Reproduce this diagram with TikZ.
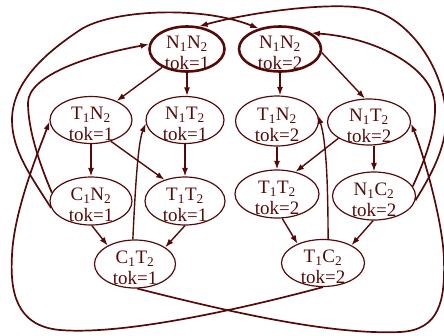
\documentclass[tikz,border=0pt]{standalone}
\usepackage{fontspec}
\setmainfont{Liberation Serif}
\usetikzlibrary{shapes.geometric,arrows.meta}
\definecolor{mr}{RGB}{85,10,10}
\newcommand\stlab[2]{\raisebox{-10pt}[0pt][0pt]{\begin{tabular}{@{}c@{}}#1\\#2\end{tabular}}}
\begin{document}
\begin{tikzpicture}[x=1pt,y=-1pt,
  st/.style={ellipse, draw=mr, line width=1.2pt, inner sep=0pt, minimum width=82pt, minimum height=47pt, font=\fontsize{19}{20.5}\selectfont, text=mr},
  init/.style={st, line width=2.6pt},
  edge/.style={draw=mr, line width=1.4pt, -{Latex[length=8.5pt,width=6pt]}},
  long/.style={edge, line width=1.7pt}]
\useasboundingbox (0,0) rectangle (444,335);
\node[init, minimum width=75pt, minimum height=45pt] (A) at (187,49) {\stlab{N\textsubscript{1}N\textsubscript{2}}{tok=1}};
\node[init, minimum width=82pt, minimum height=45pt] (B) at (280,49) {\stlab{N\textsubscript{1}N\textsubscript{2}}{tok=2}};
\node[st] (C) at (91,120) {\stlab{T\textsubscript{1}N\textsubscript{2}}{tok=1}};
\node[st, minimum width=78pt] (D) at (185,120) {\stlab{N\textsubscript{1}T\textsubscript{2}}{tok=1}};
\node[st, minimum width=83pt, minimum height=50pt] (E) at (277,121) {\stlab{T\textsubscript{1}N\textsubscript{2}}{tok=2}};
\node[st, minimum width=83pt, minimum height=46pt] (F) at (369,122) {\stlab{N\textsubscript{1}T\textsubscript{2}}{tok=2}};
\node[st, minimum height=48pt] (G) at (91,201) {\stlab{C\textsubscript{1}N\textsubscript{2}}{tok=1}};
\node[st, minimum width=80pt, minimum height=48pt] (H) at (185,201) {\stlab{T\textsubscript{1}T\textsubscript{2}}{tok=1}};
\node[st, minimum width=84pt, minimum height=48pt] (I) at (277,194) {\stlab{T\textsubscript{1}T\textsubscript{2}}{tok=2}};
\node[st, minimum width=83pt, minimum height=48pt] (J) at (374,196) {\stlab{N\textsubscript{1}C\textsubscript{2}}{tok=2}};
\node[st, minimum width=81pt, minimum height=48pt] (K) at (135,264) {\stlab{C\textsubscript{1}T\textsubscript{2}}{tok=1}};
\node[st, minimum width=83pt, minimum height=47pt] (L) at (323,263) {\stlab{T\textsubscript{1}C\textsubscript{2}}{tok=2}};
% short edges
\draw[edge] (A) -- (C);
\draw[edge] (A.south) -- (A.south |- D.north);
\draw[edge] (C) -- (G);
\draw[edge] (C.-47) -- (H.134);
\draw[edge] (D) -- (H);
\draw[edge] (G.-88) -- (K.146);
\draw[edge] (H.-90) -- (K.29);
\draw[edge] (K.95) .. controls (136,170) and (139,140) .. (D.185);
\draw[edge] (B.south) -- (B.south |- E.north);
\draw[edge] (B.-5) -- (F.100);
\draw[edge] (E) -- (I);
\draw[edge] (F.208) -- (I.50);
\draw[edge] (J.north |- F.south) -- (J.north);
\draw[edge] (I.-78) -- (L.143);
\draw[edge] (J.-92) -- (L.32);
\draw[edge] (L.78) .. controls (328,180) and (326,140) .. (E.8);
% long edges
\draw[long] (G.190) .. controls (30,175) and (12,150) .. (12,120) .. controls (12,80) and (50,50) .. (80,30) .. controls (110,10) and (200,5) .. (B.136);
\draw[long] (G.168) .. controls (40,165) and (28,130) .. (28,103) .. controls (28,75) and (90,55) .. (A.173);
\draw[long] (J.-6) .. controls (428,180) and (446,150) .. (446,120) .. controls (446,70) and (410,20) .. (372,10) .. controls (340,0) and (250,12) .. (A.62);
\draw[long] (J.14) .. controls (425,160) and (436,130) .. (435,105) .. controls (434,70) and (380,38) .. (B.27);
\draw[long] (K.-85) .. controls (230,312) and (330,335) .. (400,332) .. controls (440,330) and (445,300) .. (444,260) .. controls (443,220) and (422,150) .. (F.-2);
\draw[long] (L.-90) .. controls (230,312) and (120,335) .. (60,330) .. controls (15,326) and (10,290) .. (12,255) .. controls (14,210) and (39,150) .. (C.182);
\end{tikzpicture}
\end{document}
